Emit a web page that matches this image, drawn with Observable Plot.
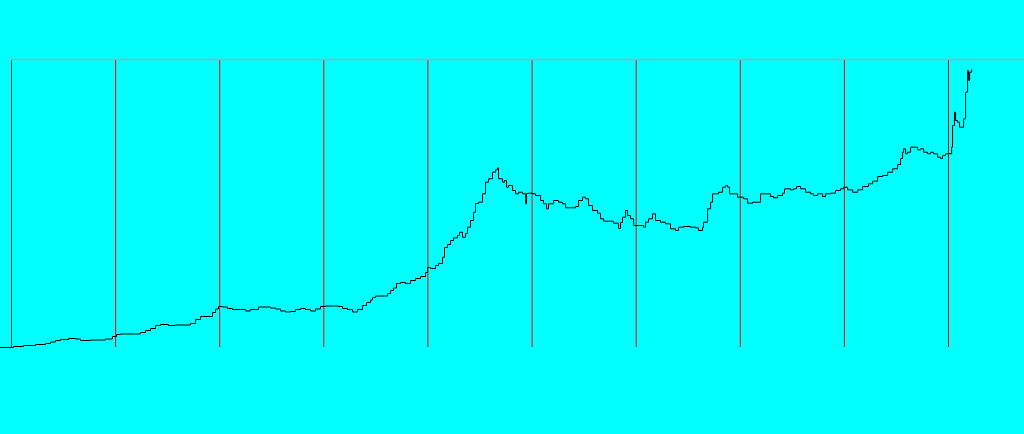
<!DOCTYPE html>
<html>
<head>
<meta charset="utf-8">
<script src="https://cdn.jsdelivr.net/npm/d3@7"></script>
<script src="https://cdn.jsdelivr.net/npm/@observablehq/plot@0.6"></script>
<style>
  html, body { margin: 0; padding: 0; background: #00ffff; overflow: hidden; }
  #chart svg { display: block; background: #00ffff; }
</style>
</head>
<body>
<div id="chart"></div>
<script>
// years since start of the series
const years = [
  -1.06, 0.10, 0.19, 1.15, 2.31, 3.27, 3.75, 4.23, 4.71, 5.48, 6.15, 6.63, 7.59, 9.03, 9.70,
  10.09, 10.47, 11.91, 12.39, 12.87, 13.35, 13.83, 14.31, 15.08, 15.75, 16.71, 17.19, 17.68, 18.16, 19.12,
  19.31, 19.60, 19.88, 20.27, 20.75, 21.23, 22.00, 22.48, 22.96, 23.44, 23.73, 24.40, 24.88, 25.36, 25.84,
  26.32, 26.80, 27.28, 27.76, 28.24, 28.72, 29.20, 29.68, 30.16, 30.93, 31.41, 31.80, 32.28, 32.76, 33.24,
  33.72, 34.10, 34.49, 34.68, 34.97, 35.93, 36.12, 36.41, 36.69, 36.98, 37.37, 37.85, 38.33, 38.81, 39.29,
  39.77, 39.96, 40.25, 40.73, 41.02, 41.40, 41.59, 41.88, 42.17, 42.46, 42.84, 43.03, 43.32, 43.61, 43.80,
  44.09, 44.38, 44.57, 44.86, 45.24, 45.53, 45.82, 46.20, 46.49, 46.69, 46.78, 47.17, 47.36, 47.55, 47.74,
  48.13, 48.41, 48.70, 49.09, 49.38, 49.47, 49.66, 50.05, 50.34, 50.82, 51.10, 51.39, 51.58, 52.07, 52.55,
  52.93, 53.22, 53.70, 54.18, 54.47, 54.85, 55.14, 55.43, 55.81, 56.29, 56.58, 56.87, 57.35, 57.83, 58.31,
  58.50, 58.69, 58.98, 59.17, 59.46, 59.75, 60.23, 60.71, 60.90, 61.19, 61.57, 61.86, 62.34, 62.82, 63.30,
  63.78, 64.07, 64.55, 65.22, 65.71, 65.99, 66.38, 66.47, 66.86, 67.15, 67.34, 67.63, 67.91, 68.30, 68.59,
  68.78, 68.97, 69.36, 69.74, 70.03, 70.32, 70.70, 71.18, 71.66, 71.95, 72.43, 72.91, 73.20, 73.58, 74.06,
  74.25, 74.83, 75.12, 75.41, 75.79, 76.27, 76.75, 77.04, 77.42, 77.91, 78.19, 78.67, 79.15, 79.63, 79.92,
  80.31, 80.79, 81.27, 81.75, 82.32, 82.71, 83.19, 83.67, 84.15, 84.63, 85.11, 85.40, 85.59, 85.69, 85.88,
  86.07, 86.36, 86.65, 87.03, 87.32, 87.61, 87.99, 88.28, 88.57, 88.95, 89.24, 89.43, 89.72, 90.01, 90.30,
  90.39, 90.58, 90.68, 90.87, 91.06, 91.35, 91.45, 91.64, 91.83, 91.93, 92.03, 92.22
];
// index level (percent of chart maximum)
const level = [
  0, 0, 0.35, 0.69, 1.04, 1.39, 1.91, 2.43, 2.78, 3.13, 2.95, 2.43, 2.60, 2.95, 3.82,
  4.51, 4.69, 4.69, 5.21, 5.90, 6.60, 7.64, 7.99, 7.64, 7.81, 7.81, 8.33, 9.72, 10.76, 10.76,
  12.15, 13.37, 14.24, 14.06, 13.54, 13.19, 13.19, 12.67, 13.19, 13.19, 14.06, 14.06, 13.72, 13.37, 12.67,
  12.33, 12.50, 13.19, 13.54, 13.19, 12.67, 13.37, 14.24, 14.41, 14.41, 14.24, 13.54, 13.19, 12.33, 13.19,
  14.58, 15.63, 16.49, 17.36, 17.88, 17.88, 18.75, 19.79, 20.66, 22.22, 22.57, 22.22, 23.26, 23.96, 24.65,
  26.04, 27.78, 27.43, 28.47, 29.17, 31.35, 34.72, 35.76, 37.15, 38.09, 38.89, 40.03, 38.30, 39.58, 41.77,
  44.10, 46.98, 50.00, 50.45, 53.37, 57.40, 58.58, 60.87, 61.70, 62.40, 58.58, 57.40, 57.99, 55.66, 56.25,
  54.51, 53.37, 53.92, 53.37, 49.90, 53.47, 53.58, 53.37, 52.78, 51.04, 49.90, 48.16, 49.90, 51.04, 50.45,
  49.90, 48.51, 48.51, 48.96, 51.04, 52.19, 51.63, 49.31, 47.57, 46.63, 44.69, 43.85, 43.85, 43.16, 41.32,
  43.40, 45.24, 47.57, 45.83, 44.69, 42.36, 42.36, 41.77, 43.51, 44.69, 46.42, 44.10, 43.51, 42.95, 41.22,
  40.63, 41.77, 42.01, 41.77, 41.56, 40.63, 41.77, 43.51, 48.16, 50.45, 53.37, 53.37, 53.92, 55.66, 56.25,
  55.66, 53.37, 53.37, 52.19, 52.19, 51.63, 50.10, 50.45, 50.45, 53.37, 53.37, 52.43, 51.98, 52.78, 53.58,
  55.10, 54.76, 55.10, 55.90, 55.10, 53.92, 53.37, 52.78, 53.37, 52.43, 53.37, 53.58, 54.51, 55.10, 55.66,
  54.76, 53.92, 54.76, 55.90, 56.84, 57.74, 59.38, 59.72, 60.87, 62.05, 63.54, 65.63, 67.81, 68.99, 67.26,
  67.81, 69.55, 69.55, 68.65, 68.99, 67.81, 67.26, 67.81, 67.26, 66.08, 65.63, 66.67, 67.26, 67.26, 69.55,
  77.08, 81.70, 78.82, 78.23, 76.49, 76.49, 79.41, 88.65, 96.18, 92.71, 95.59, 96.42
];
const gridYears = [10, 20, 30, 40, 50, 60, 70, 80, 90];
const baseYear = [0];
const xDomain = [-1.0566, 97.30];
const topRule = [{y: 100, x1: 0, x2: 97.30}];

const data = years.map((t, i) => ({t, v: level[i]}));

const chart = Plot.plot({
  width: 1024,
  height: 434,
  marginTop: 59,
  marginBottom: 87,
  marginLeft: 0,
  marginRight: 0,
  style: {background: "#00ffff"},
  x: {domain: xDomain, axis: null},
  y: {domain: [0, 100], axis: null},
  marks: [
    Plot.ruleX(gridYears, {stroke: "#ff0000", strokeWidth: 1}),
    Plot.ruleX(baseYear, {stroke: "#333333", strokeWidth: 1}),
    Plot.ruleY(topRule, {y: "y", x1: "x1", x2: "x2", stroke: "#a8a8a8", strokeWidth: 1.5}),
    Plot.line(data, {x: "t", y: "v", curve: "step-after", stroke: "#000000", strokeWidth: 1})
  ]
});
document.getElementById("chart").append(chart);
</script>
</body>
</html>
